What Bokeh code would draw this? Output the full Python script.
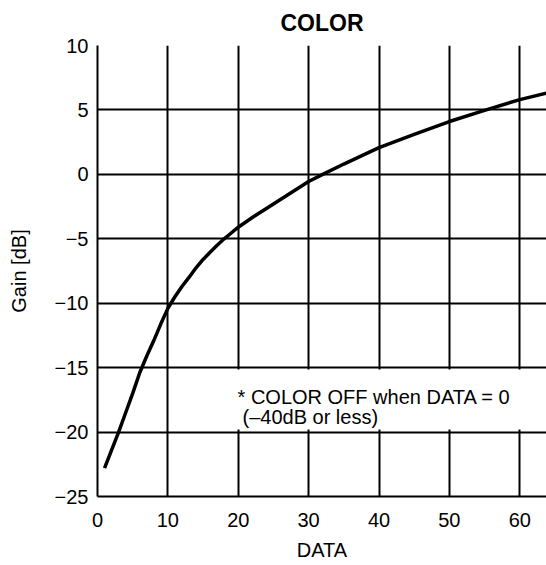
from bokeh.plotting import figure
from bokeh.models import Range1d, FixedTicker, Label, BoxAnnotation
from bokeh.embed import file_html
from bokeh.resources import INLINE

# ---- data ----
data_x = [1, 2, 3, 4, 5, 6, 7, 8, 9, 10, 11, 12, 13, 14, 15, 16, 17, 18, 19, 20,
          22, 24, 27, 30, 32, 35, 40, 45, 50, 55, 60, 63.8]
gain_db = [-22.8, -21.4, -20.0, -18.5, -17.0, -15.4, -14.1, -12.9, -11.6, -10.4,
           -9.5, -8.7, -8.0, -7.25, -6.6, -6.05, -5.5, -5.0, -4.55, -4.1,
           -3.35, -2.65, -1.6, -0.55, 0.0, 0.8, 2.08, 3.1, 4.1, 4.97, 5.8, 6.3]

x_ticks = [0, 10, 20, 30, 40, 50, 60]
x_tick_labels = ["0", "10", "20", "30", "40", "50", "60"]
y_ticks = [-25, -20, -15, -10, -5, 0, 5, 10]
y_tick_labels = ["\u221225", "\u221220", "\u221215", "\u221210", "\u22125", "0", "5", "10"]

title_text = "COLOR"
x_label = "DATA"
y_label = "Gain [dB]"
note_line1 = "* COLOR OFF when DATA = 0"
note_line2 = "(\u201340dB or less)"

FONT = "Liberation Sans"

p = figure(width=546, height=565, x_range=Range1d(0, 63.8), y_range=Range1d(-25, 10),
           output_backend="svg", toolbar_location=None, title=title_text,
           min_border_left=97, min_border_right=0, min_border_top=45, min_border_bottom=69)

p.background_fill_color = "white"
p.border_fill_color = "white"
p.outline_line_color = None

p.title.text_font = FONT
p.title.text_font_size = "23px"
p.title.text_font_style = "bold"
p.title.align = "center"
p.title.vertical_align = "top"
p.title.text_line_height = 0.7
p.title.text_color = "black"
p.title.standoff = 16

for ax in (p.xaxis[0], p.yaxis[0]):
    ax.axis_line_color = "black"
    ax.axis_line_width = 2
    ax.major_tick_line_color = None
    ax.minor_tick_line_color = None
    ax.major_tick_out = 0
    ax.major_tick_in = 0
    ax.major_label_text_font = FONT
    ax.major_label_text_font_size = "20px"
    ax.major_label_text_color = "black"
    ax.axis_label_text_font = FONT
    ax.axis_label_text_font_size = "20px"
    ax.axis_label_text_font_style = "normal"
    ax.axis_label_text_color = "black"

p.xaxis.ticker = FixedTicker(ticks=x_ticks)
p.xaxis.major_label_overrides = dict(zip(x_ticks, x_tick_labels))
p.xaxis.axis_label = x_label
p.xaxis.major_label_standoff = 16
p.xaxis.axis_label_standoff = 9

p.yaxis.ticker = FixedTicker(ticks=y_ticks)
p.yaxis.major_label_overrides = dict(zip(y_ticks, y_tick_labels))
p.yaxis.axis_label = y_label
p.yaxis.major_label_standoff = 9
p.yaxis.axis_label_standoff = 22

for g in (p.xgrid[0], p.ygrid[0]):
    g.grid_line_color = "black"
    g.grid_line_width = 2
    g.grid_line_alpha = 1.0

# white backing behind the note
p.add_layout(BoxAnnotation(left=18, right=63.8, bottom=-19.8, top=-15.15,
                           fill_color="white", fill_alpha=1.0, line_color=None,
                           level="underlay"))

p.line(data_x, gain_db, line_color="black", line_width=3.5)

p.add_layout(Label(x=19.9, y=-17.3, text=note_line1, text_baseline="alphabetic",
                   text_font=FONT, text_font_size="20px", text_color="black"))
p.add_layout(Label(x=20.6, y=-18.8, text=note_line2, text_baseline="alphabetic",
                   text_font=FONT, text_font_size="20px", text_color="black"))

open("out.html", "w").write(file_html(p, INLINE))
